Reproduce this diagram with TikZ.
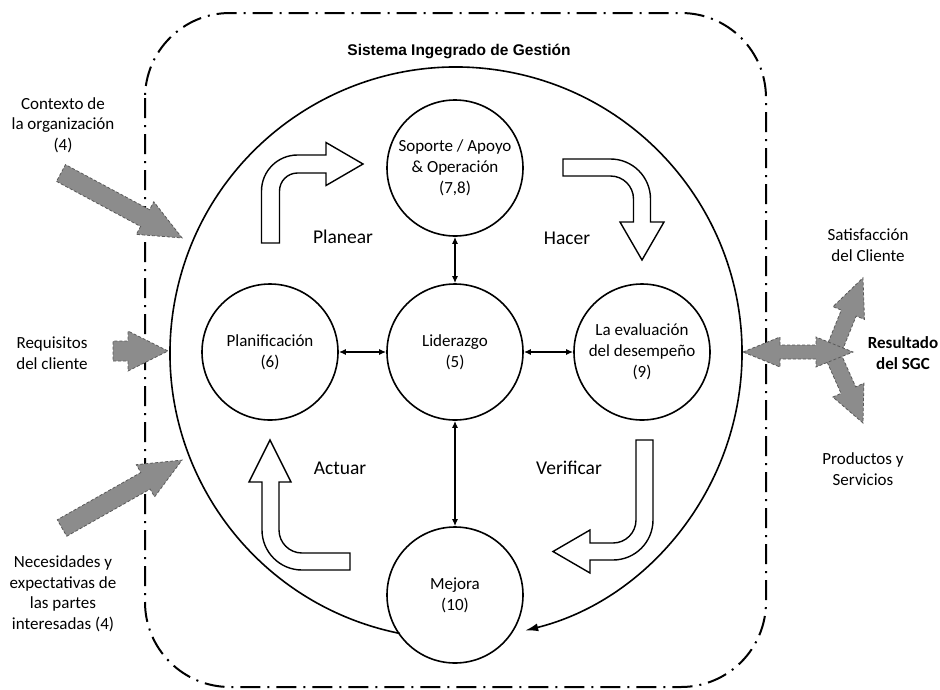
\documentclass[tikz,border=0pt]{standalone}
\usepackage{fontspec}
\setmainfont{Carlito}
\newfontfamily\titlefont{Liberation Sans}
\usetikzlibrary{arrows.meta}
\newcommand\grayarrow[7]{%
  \begin{scope}[shift={(#1,#2)},rotate=#3]
    \draw[grayar] (0,#5) -- ({#4-#7},#5) -- ({#4-#7},#6) -- (#4,0) -- ({#4-#7},-#6) -- ({#4-#7},-#5) -- (0,-#5) -- cycle;
  \end{scope}}
\begin{document}
\begin{tikzpicture}[x=1pt,y=-1pt,
  circ/.style={circle,draw,line width=1.6pt,minimum size=136pt,inner sep=0pt,align=center,font=\fontsize{17}{21}\selectfont},
  lbl/.style={align=center,font=\fontsize{17}{20.5}\selectfont},
  pdca/.style={font=\fontsize{19.5}{22}\selectfont},
  biarrow/.style={line width=1.5pt,{Latex[length=7pt,width=6pt]}-{Latex[length=7pt,width=6pt]}},
  blockarr/.style={draw,line width=1.4pt,fill=white,line join=miter},
  grayar/.style={draw=black!65,fill=black!45,dash pattern=on 3pt off 2pt,line width=0.8pt},
  dashdotbox/.style={line width=2pt,dash pattern=on 20pt off 7pt on 2pt off 7pt},
  outerring/.style={line width=1.6pt,-{Latex[length=13pt,width=8pt]}}
]
\useasboundingbox (0,0) rectangle (940,689);
\fill[white] (0,0) rectangle (940,689);

% system boundary
\draw[dashdotbox,rounded corners=85pt] (145,13) rectangle (766,687);
\node[font=\titlefont\bfseries\fontsize{15.5}{18}\selectfont] (title) at (459,51) {Sistema Ingegrado de Gestión};

% outer cycle
\coordinate (oc) at (456,353);
\draw[outerring] ([shift={(101.3:286)}]oc) arc[start angle=101.3,end angle=436,radius=286];

% circles
\node[circ] (sop) at (455,168) {Soporte / Apoyo\\\& Operación\\(7,8)};
\node[circ] (lid) at (455,352) {Liderazgo\\(5)};
\node[circ] (pla) at (270,352) {Planificación\\(6)};
\node[circ] (eva) at (642,352) {La evaluación\\del desempeño\\(9)};
\node[circ] (mej) at (455,595) {Mejora\\(10)};

\draw[biarrow] (sop) -- (lid);
\draw[biarrow] (pla) -- (lid);
\draw[biarrow] (lid) -- (eva);
\draw[biarrow] (lid) -- (mej);

% PDCA block arrows
\draw[blockarr] (261.5,243) -- (261.5,191) arc[start angle=180,end angle=270,radius=36]
  -- (326,155) -- (326,142.5) -- (363,164) -- (326,185.5) -- (326,173) -- (297.5,173)
  arc[start angle=270,end angle=180,radius=18] -- (279.5,243) -- cycle;
\draw[blockarr] (563,159) -- (610.5,159) arc[start angle=270,end angle=360,radius=40]
  -- (650.5,222) -- (664,222) -- (642,260) -- (620,222) -- (633.5,222) -- (633.5,199)
  arc[start angle=0,end angle=-90,radius=23] -- (563,176) -- cycle;
\draw[blockarr] (636,440) -- (653,440) -- (653,520) arc[start angle=0,end angle=90,radius=40]
  -- (590,560) -- (590,573) -- (553,551.5) -- (590,530) -- (590,543) -- (613,543)
  arc[start angle=90,end angle=0,radius=23] -- cycle;
\draw[blockarr] (270,440) -- (291,482) -- (279,482) -- (279,530) arc[start angle=180,end angle=90,radius=23]
  -- (350,553) -- (350,570) -- (302,570) arc[start angle=90,end angle=180,radius=40]
  -- (262,482) -- (249,482) -- cycle;

\node[pdca] (planear) at (343,237) {Planear};
\node[pdca] (hacer) at (567,238) {Hacer};
\node[pdca] (actuar) at (340,468) {Actuar};
\node[pdca] (verificar) at (569,468) {Verificar};

% inputs
\grayarrow{61}{173}{-28.2}{137.4}{9.5}{18.5}{42}
\grayarrow{113}{351}{0}{55}{10}{20}{40}
\grayarrow{62}{528}{29.5}{137.9}{9.5}{18.5}{42}

\node[lbl] (ctx) at (63,125) {Contexto de\\la organización\\(4)};
\node[lbl] (req) at (52,353) {Requisitos\\del cliente};
\node[lbl] (nec) at (63,594) {Necesidades y\\expectativas de\\las partes\\interesadas (4)};

% outputs
\grayarrow{833}{352}{68}{80}{8}{17}{38}
\grayarrow{832.5}{354.5}{-66}{75}{8}{17}{36}
\draw[grayar] (743,352) -- (780,337) -- (780,345) -- (816,345) -- (816,337) -- (853,352)
  -- (816,367) -- (816,359) -- (780,359) -- (780,367) -- cycle;

\node[lbl] (sat) at (868,245) {Satisfacción\\del Cliente};
\node[lbl] (pro) at (863,469) {Productos y\\Servicios};
\node[lbl,font=\bfseries\fontsize{17}{20.5}\selectfont] (res) at (903,353) {Resultado\\del SGC};
\end{tikzpicture}
\end{document}
